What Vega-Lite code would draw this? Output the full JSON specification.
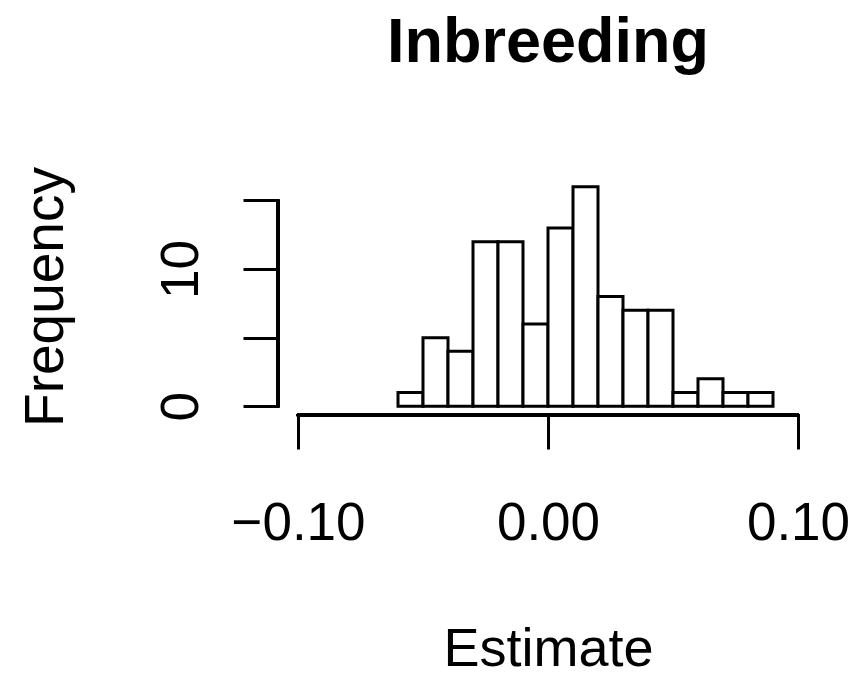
{
  "$schema": "https://vega.github.io/schema/vega-lite/v6.json",
  "width": 540,
  "height": 237,
  "autosize": {"type": "none"},
  "padding": {"left": 278, "top": 178, "right": 38, "bottom": 263},
  "background": "white",
  "config": {"view": {"stroke": null}, "font": "Liberation Sans"},
  "title": {
    "text": "Inbreeding",
    "fontSize": 63,
    "fontWeight": "bold",
    "font": "Liberation Sans",
    "anchor": "middle",
    "frame": "group",
    "baseline": "alphabetic",
    "offset": 42,
    "color": "black"
  },
  "data": {
    "values": [
      {"bin_start": -0.06, "bin_end": -0.05, "count": 1},
      {"bin_start": -0.05, "bin_end": -0.04, "count": 5},
      {"bin_start": -0.04, "bin_end": -0.03, "count": 4},
      {"bin_start": -0.03, "bin_end": -0.02, "count": 12},
      {"bin_start": -0.02, "bin_end": -0.01, "count": 12},
      {"bin_start": -0.01, "bin_end": 0.0, "count": 6},
      {"bin_start": 0.0, "bin_end": 0.01, "count": 13},
      {"bin_start": 0.01, "bin_end": 0.02, "count": 16},
      {"bin_start": 0.02, "bin_end": 0.03, "count": 8},
      {"bin_start": 0.03, "bin_end": 0.04, "count": 7},
      {"bin_start": 0.04, "bin_end": 0.05, "count": 7},
      {"bin_start": 0.05, "bin_end": 0.06, "count": 1},
      {"bin_start": 0.06, "bin_end": 0.07, "count": 2},
      {"bin_start": 0.07, "bin_end": 0.08, "count": 1},
      {"bin_start": 0.08, "bin_end": 0.09, "count": 1}
    ]
  },
  "layer": [
    {
      "mark": {"type": "rect", "fill": "white", "stroke": "black", "strokeWidth": 3},
      "encoding": {
        "x": {
          "field": "bin_start",
          "type": "quantitative",
          "scale": {"domain": [-0.108, 0.108], "nice": false, "zero": false},
          "axis": {
            "values": [-0.1, 0, 0.1],
            "domain": false,
            "grid": false,
            "tickSize": 34,
            "tickWidth": 3,
            "tickColor": "black",
            "labelFontSize": 53,
            "labelColor": "black",
            "labelFont": "Liberation Sans",
            "labelBaseline": "alphabetic",
            "labelAlign": "center",
            "labelPadding": 90,
            "labelFlush": false,
            "labelOverlap": false,
            "labelExpr": "replace(format(datum.value, '.2f'), '-', '−')",
            "title": "Estimate",
            "titleFont": "Liberation Sans",
            "titleFontSize": 54,
            "titleFontWeight": "normal",
            "titleColor": "black",
            "titleX": 270,
            "titleY": 250,
            "titleBaseline": "alphabetic",
            "titleAlign": "center"
          }
        },
        "x2": {"field": "bin_end"},
        "y": {
          "field": "count",
          "type": "quantitative",
          "scale": {"domain": [-0.64, 16.64], "nice": false, "zero": false},
          "axis": {
            "values": [0, 5, 10, 15],
            "domain": false,
            "grid": false,
            "tickSize": 35,
            "tickWidth": 3,
            "tickColor": "black",
            "labelAngle": -90,
            "labelAlign": "center",
            "labelBaseline": "alphabetic",
            "labelPadding": 46,
            "labelFontSize": 53,
            "labelColor": "black",
            "labelFont": "Liberation Sans",
            "labelFlush": false,
            "labelOverlap": false,
            "labelExpr": "datum.value % 10 == 0 ? datum.label : ''",
            "title": "Frequency",
            "titleFont": "Liberation Sans",
            "titleFontSize": 55,
            "titleFontWeight": "normal",
            "titleColor": "black",
            "titleAngle": -90,
            "titleX": -216,
            "titleY": 118.5,
            "titleBaseline": "alphabetic",
            "titleAlign": "center"
          }
        },
        "y2": {"datum": 0}
      }
    },
    {
      "mark": {"type": "rule", "stroke": "black", "strokeWidth": 3, "strokeCap": "round"},
      "encoding": {
        "x": {"datum": -0.1, "type": "quantitative"},
        "x2": {"datum": 0.1},
        "y": {"datum": -0.64, "type": "quantitative"}
      }
    },
    {
      "mark": {"type": "rule", "stroke": "black", "strokeWidth": 3, "strokeCap": "round"},
      "encoding": {
        "x": {"datum": -0.108, "type": "quantitative"},
        "y": {"datum": 0, "type": "quantitative"},
        "y2": {"datum": 15}
      }
    }
  ]
}
